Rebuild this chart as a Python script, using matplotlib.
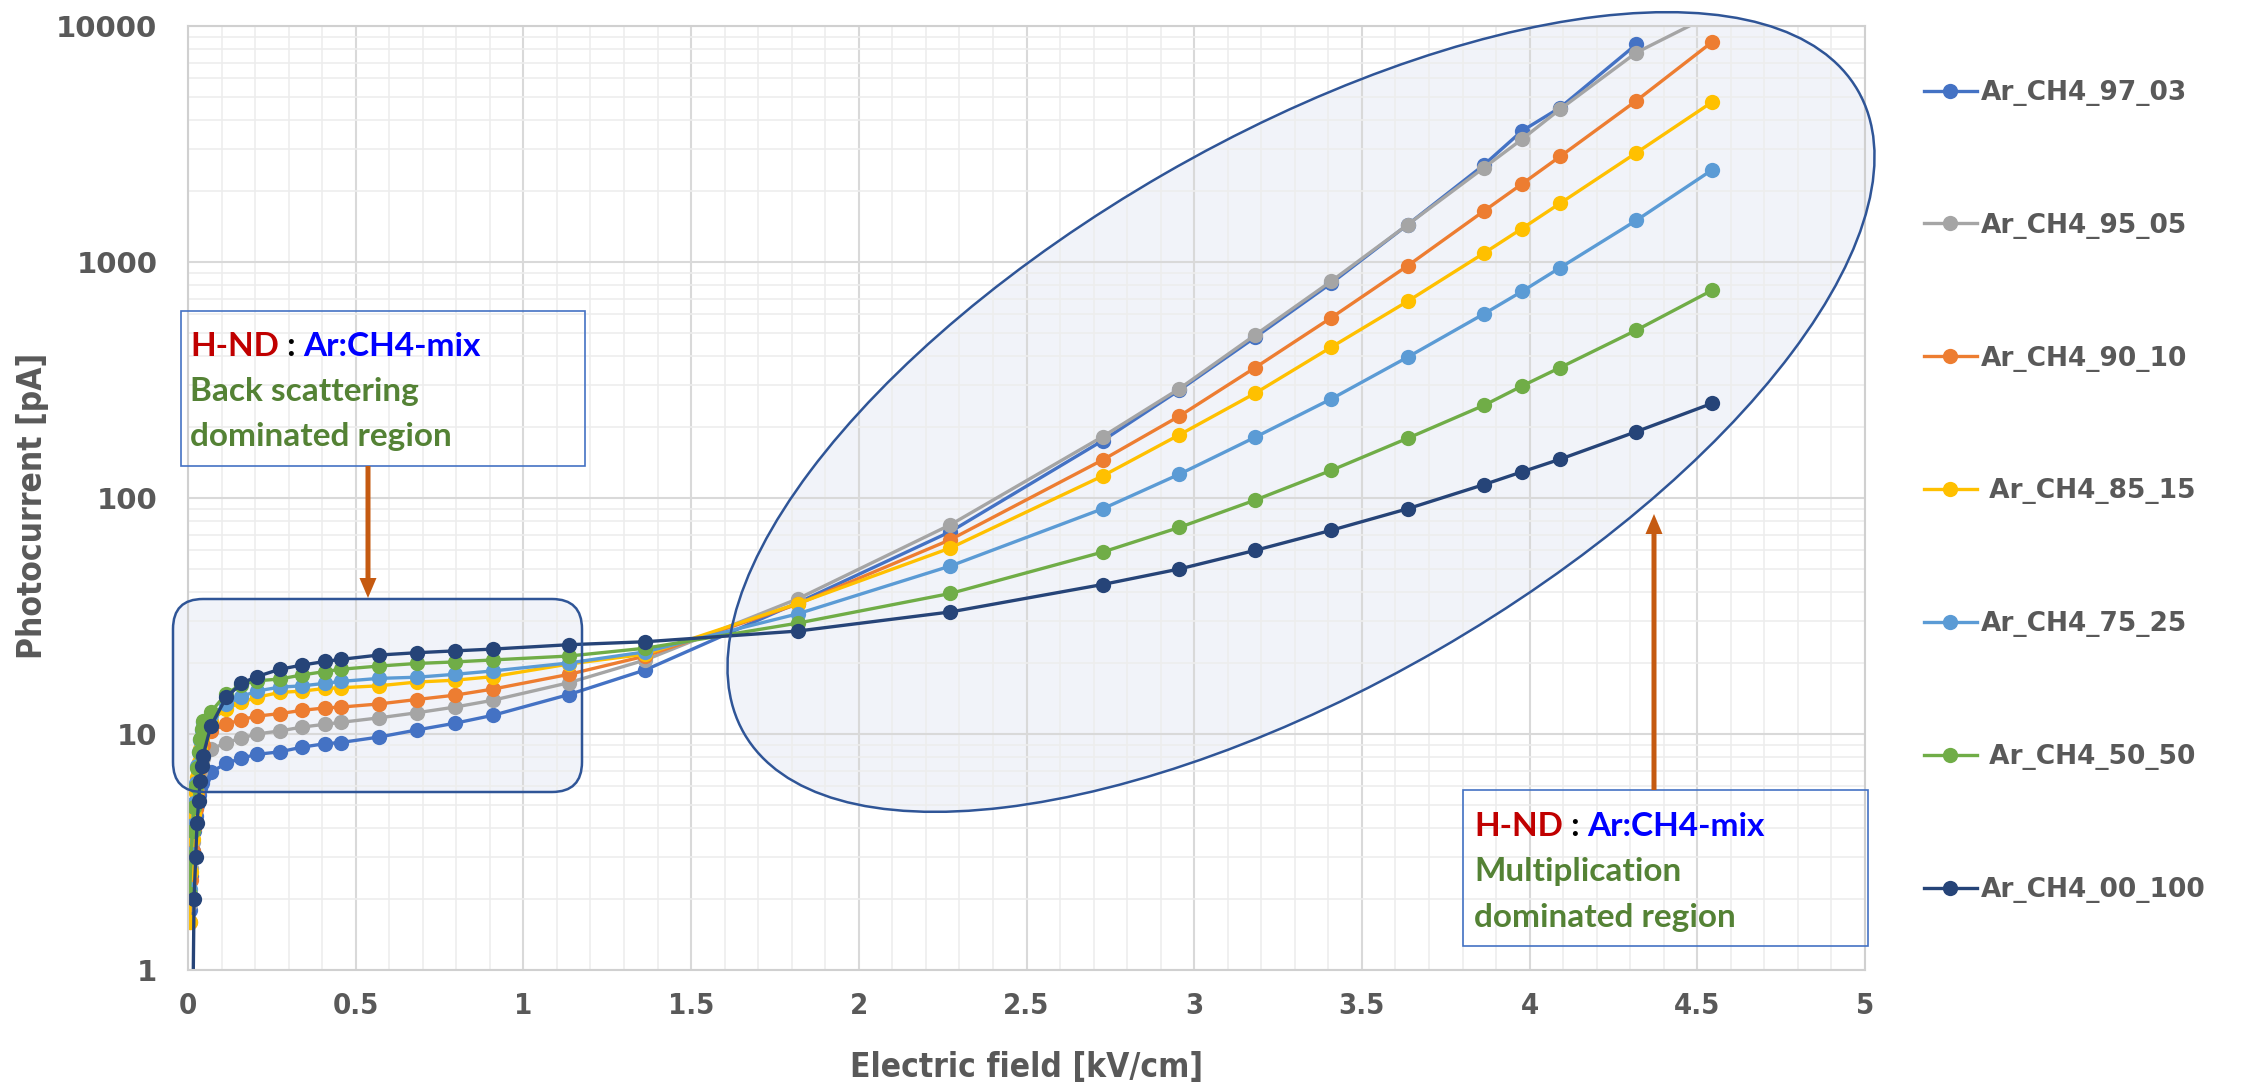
import numpy as np
import matplotlib
matplotlib.use("Agg")
import matplotlib.pyplot as plt
from matplotlib.patches import Ellipse, FancyBboxPatch, Rectangle, FancyArrow
from matplotlib.ticker import MultipleLocator, LogLocator, FuncFormatter, NullFormatter
from matplotlib import font_manager

nan = np.nan

# electric field points [kV/cm]
field = [0.0045, 0.009, 0.0136, 0.018, 0.023, 0.027, 0.032, 0.036, 0.041, 0.045,
         0.068, 0.114, 0.159, 0.205, 0.273, 0.341, 0.409, 0.455, 0.568, 0.682,
         0.795, 0.909, 1.136, 1.364, 1.818, 2.273, 2.727, 2.955, 3.182, 3.409,
         3.636, 3.864, 3.977, 4.091, 4.318, 4.545]

# photocurrent [pA] per gas mixture
ar97_03 = [1.8, 2.5, 3.2, 3.9, 4.5, 5.0, 5.5, 5.9, 6.2, 6.5,
           6.9, 7.5, 7.9, 8.2, 8.4, 8.8, 9.1, 9.2, 9.7, 10.4,
           11.1, 12.0, 14.7, 18.7, 36, 72, 175, 286, 480, 814,
           1438, 2580, 3590, 4510, 8360, nan]
ar95_05 = [1.9, 2.7, 3.5, 4.3, 5.0, 5.7, 6.3, 6.9, 7.4, 7.9,
           8.6, 9.2, 9.6, 10.0, 10.3, 10.7, 11.0, 11.2, 11.7, 12.3,
           13.0, 13.9, 16.5, 20.6, 37.4, 77, 182, 290, 491, 830,
           1438, 2510, 3310, 4440, 7710, 11200]
ar90_10 = [1.6, 2.4, 3.2, 4.0, 4.8, 5.6, 6.4, 7.2, 8.1, 9.0,
           10.3, 11.0, 11.5, 11.9, 12.2, 12.6, 12.9, 13.0, 13.4, 14.0,
           14.6, 15.5, 17.9, 21.4, 35.5, 66.6, 145, 222, 357, 581,
           963, 1645, 2140, 2800, 4820, 8570]
ar85_15 = [1.6, 2.6, 3.6, 4.6, 5.6, 6.6, 7.6, 8.6, 9.6, 10.4,
           11.4, 12.8, 13.6, 14.3, 15.0, 15.2, 15.6, 15.7, 16.0, 16.6,
           16.9, 17.5, 19.8, 21.8, 35.7, 61.4, 124, 185, 278, 436,
           681, 1090, 1385, 1773, 2900, 4770]
ar75_25 = [2.2, 3.1, 4.1, 5.1, 6.2, 7.3, 8.4, 9.4, 10.4, 11.2,
           12.0, 13.4, 14.4, 15.2, 15.8, 16.0, 16.4, 16.7, 17.2, 17.4,
           17.9, 18.5, 20.0, 22.3, 32.3, 51.5, 90, 126, 181, 263,
           395, 603, 750, 946, 1500, 2460]
ar50_50 = [2.1, 3.0, 3.9, 4.9, 6.0, 7.2, 8.4, 9.5, 10.5, 11.3,
           12.4, 14.8, 16.2, 16.8, 17.1, 17.8, 18.4, 18.8, 19.4, 19.9,
           20.2, 20.6, 21.4, 23.1, 29.5, 39.4, 59, 75, 98, 131,
           179, 247, 298, 357, 514, 760]
ar00_100 = [nan, nan, 0.5, 2.0, 3.0, 4.2, 5.2, 6.3, 7.3, 8.1,
            10.8, 14.3, 16.4, 17.5, 18.8, 19.6, 20.3, 20.7, 21.6, 22.1,
            22.5, 22.9, 23.9, 24.6, 27.3, 32.9, 43, 50, 60, 73,
            90, 114, 129, 146, 191, 252]

series = [ar97_03, ar95_05, ar90_10, ar85_15, ar75_25, ar50_50, ar00_100]
labels = ["Ar_CH4_97_03", "Ar_CH4_95_05", "Ar_CH4_90_10", " Ar_CH4_85_15",
          "Ar_CH4_75_25", " Ar_CH4_50_50", "Ar_CH4_00_100"]
colours = ["#4472C4", "#A5A5A5", "#ED7D31", "#FFC000", "#5B9BD5", "#70AD47", "#264478"]

grey_txt = "#595959"
wide = ["DejaVu Sans"]
calib = ["Lato", "DejaVu Sans"]
# condensed bold face for the axis texts
narrow = font_manager.FontProperties(family="DejaVu Sans", stretch="condensed", weight="bold")

W, H = 2249, 1090
fig = plt.figure(figsize=(W / 100, H / 100), dpi=100)


def overlay(z):
    # full-figure axes in pixel units (y down), used for the drawn shapes
    o = fig.add_axes([0, 0, 1, 1], zorder=z)
    o.set_xlim(0, W)
    o.set_ylim(H, 0)
    o.axis("off")
    return o


back = overlay(0)
ax = fig.add_axes([188 / W, 1 - 970 / H, 1677 / W, 944 / H], zorder=1)
ax.set_facecolor("none")
front = overlay(2)

# data
for vals, lab, col in zip(series, labels, colours):
    ax.plot(field, vals, color=col, lw=2.4, marker="o", ms=11, mec=col, mew=0, label=lab)

ax.set_yscale("log")
ax.set_xlim(0, 5)
ax.set_ylim(1, 10000)
ax.xaxis.set_major_locator(MultipleLocator(0.5))
ax.xaxis.set_minor_locator(MultipleLocator(0.1))
ax.yaxis.set_major_locator(LogLocator(base=10, numticks=10))
ax.yaxis.set_minor_locator(LogLocator(base=10, subs=range(2, 10), numticks=50))
ax.yaxis.set_minor_formatter(NullFormatter())
ax.xaxis.set_major_formatter(FuncFormatter(lambda v, _: f"{v:g}"))
ax.yaxis.set_major_formatter(FuncFormatter(lambda v, _: f"{v:g}"))
ax.grid(which="major", color="#D9D9D9", lw=1.5)
ax.grid(which="minor", color="#EDEDED", lw=1.2)
ax.set_axisbelow(True)
ax.tick_params(which="both", length=0)
ax.tick_params(axis="y", pad=22, labelcolor=grey_txt)
ax.tick_params(axis="x", pad=16, labelcolor=grey_txt)
for s in ax.spines.values():
    s.set_color("#D0D0D0")
    s.set_linewidth(1.5)
for t in ax.get_yticklabels():
    t.set_fontfamily(wide)
    t.set_fontweight("bold")
    t.set_fontsize(21)
for t in ax.get_xticklabels():
    t.set_fontproperties(narrow)
    t.set_fontsize(21)

ylab = fig.text(33 / W, 1 - 506 / H, "Photocurrent [pA]", rotation=90, ha="center", va="center",
                fontproperties=narrow, color=grey_txt)
ylab.set_fontsize(24)
xlab = fig.text(1027 / W, 1 - 1068 / H, "Electric field [kV/cm]", ha="center", va="center",
                fontproperties=narrow, color=grey_txt)
xlab.set_fontsize(24)

leg = fig.legend(loc="upper left", bbox_to_anchor=(1900 / W, 1 - 56 / H), frameon=False,
                 prop={"family": wide, "weight": "bold", "size": 19},
                 labelspacing=4.05, handlelength=2.0, handletextpad=0.15)
for t in leg.get_texts():
    t.set_color(grey_txt)

# highlighted regions
edge = "#2F5597"
fill = "#DCE3F0"
back.add_patch(Ellipse((1301, 412), 1286, 549, angle=-30, fc=fill, alpha=0.4, ec="none"))
front.add_patch(Ellipse((1301, 412), 1286, 549, angle=-30, fc="none", ec=edge, lw=1.8))
back.add_patch(FancyBboxPatch((173, 599), 409, 193, boxstyle="round,pad=0,rounding_size=30",
                              fc=fill, alpha=0.4, ec="none"))
front.add_patch(FancyBboxPatch((173, 599), 409, 193, boxstyle="round,pad=0,rounding_size=30",
                               fc="none", ec=edge, lw=1.8))

# text boxes
front.add_patch(Rectangle((181, 311), 404, 155, fc="none", ec="#4472C4", lw=1.2))
front.add_patch(Rectangle((1463, 790), 405, 156, fc="none", ec="#4472C4", lw=1.2))

renderer = fig.canvas.get_renderer()


def colour_line(x, y, parts, size=24):
    for s, c in parts:
        t = front.text(x, y, s, color=c, fontsize=size, fontweight="bold", family=calib,
                       va="baseline", ha="left")
        x += t.get_window_extent(renderer).width


head = [("H-ND", "#C00000"), (" : ", "black"), ("Ar:CH4-mix", "#0000FF")]
green = "#548235"
colour_line(190, 356, head)
colour_line(190, 401, [("Back scattering", green)])
colour_line(190, 446, [("dominated region", green)])
colour_line(1474, 836, head)
colour_line(1474, 881, [("Multiplication", green)])
colour_line(1474, 927, [("dominated region", green)])

# arrows
arrow_c = "#C55A11"
front.add_patch(FancyArrow(368, 466, 0, 598 - 466, width=5, head_width=17, head_length=20,
                           length_includes_head=True, color=arrow_c, lw=0))
front.add_patch(FancyArrow(1654, 790, 0, 514 - 790, width=5, head_width=17, head_length=20,
                           length_includes_head=True, color=arrow_c, lw=0))

fig.savefig("out.png", dpi=100)
